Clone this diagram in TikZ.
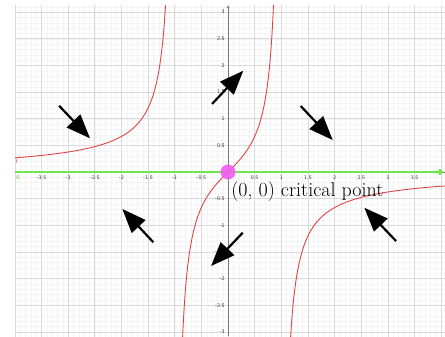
\documentclass[tikz,border=0pt]{standalone}
\usetikzlibrary{arrows.meta}
\definecolor{curvered}{RGB}{222,70,70}
\definecolor{lgreen}{RGB}{110,232,80}
\definecolor{pinkpt}{RGB}{242,90,242}
\definecolor{minorg}{RGB}{244,244,244}
\definecolor{majorg}{RGB}{218,218,218}
\definecolor{axisg}{RGB}{120,120,120}
\begin{document}
\begin{tikzpicture}[x=53.3pt,y=53.3pt,
  minorgrid/.style={draw=minorg,line width=0.35pt},
  majorgrid/.style={draw=majorg,line width=0.6pt},
  fcurve/.style={draw=curvered,line width=0.9pt,smooth,samples=200},
  flowarrow/.style={draw=black,line width=2.2pt,-{Triangle[length=24pt,width=18.5pt]}},
  ticklab/.style={font=\sffamily\fontsize{5.5}{6}\selectfont,text=black!80,inner sep=0.5pt}]
\useasboundingbox (-4.278,-3.077) rectangle (4.071,3.227);
\begin{scope}
  \clip (-4,-3.077) rectangle (4.071,3.12);
  \draw[minorgrid,step=0.1] (-4,-3.2) grid (4.2,3.2);
  \draw[majorgrid,step=0.5] (-4,-3.2) grid (4.2,3.2);
  \draw[axisg,line width=0.6pt] (-4,0) -- (4.1,0);
  \draw[fcurve] plot[domain=-4:-1.16] (\x,{\x/(1-\x*\x)});
  \draw[fcurve] plot[domain=-0.87:0.87] (\x,{\x/(1-\x*\x)});
  \draw[fcurve] plot[domain=1.16:4.1] (\x,{\x/(1-\x*\x)});
\end{scope}
% y axis
\coordinate (ybot) at (0,-3.077);
\coordinate (ytop) at (0,3.12);
\draw[axisg,line width=0.6pt,-{Straight Barb[length=2pt,width=3pt]}] (ybot) -- (ytop);
% x axis tick labels
\foreach \v in {-3.5,-3,-2.5,-2,-1.5,-1,-0.5,0.5,1,1.5,2,2.5,3,3.5}
  \node[ticklab] (xl\v) at (\v,-0.1) {\v};
\foreach \v in {-3,-2.5,-2,-1.5,-1,-0.5,0.5,1,1.5,2,2.5,3}
  \node[ticklab,anchor=east] (yl\v) at (-0.05,\v) {\v};
% green line
\coordinate (gl) at (-4,0);
\coordinate (gr) at (4.04,0);
\draw[lgreen,line width=2.4pt,-{Straight Barb[length=2.5pt,width=5pt]}] (gl) -- (gr);
\node[font=\sffamily\fontsize{6}{6}\selectfont,text=lgreen!80!black,inner sep=0pt] (g0) at (-3.94,-0.1) {0};
\node[font=\sffamily\fontsize{6}{6}\selectfont,text=curvered,inner sep=0pt] (fl) at (-3.96,0.2) {f};
% critical point
\fill[pinkpt,opacity=0.9] (0,0) circle (0.14);
\node[anchor=base west,inner sep=0pt,font=\fontsize{20}{22}\selectfont] (cp) at (0.06,-0.463) {(0, 0) critical point};
% arrows
\coordinate (a1t) at (-3.17,1.244); \coordinate (a1h) at (-2.589,0.632);
\coordinate (a2t) at (-0.30,1.276); \coordinate (a2h) at (0.287,1.90);
\coordinate (a3t) at (1.364,1.238); \coordinate (a3h) at (1.964,0.600);
\coordinate (a4t) at (-1.401,-1.319); \coordinate (a4h) at (-1.983,-0.694);
\coordinate (a5t) at (0.276,-1.139); \coordinate (a5h) at (-0.319,-1.764);
\coordinate (a6t) at (3.152,-1.295); \coordinate (a6h) at (2.557,-0.670);
\foreach \i in {1,...,6} \draw[flowarrow] (a\i t) -- (a\i h);
\end{tikzpicture}
\end{document}
